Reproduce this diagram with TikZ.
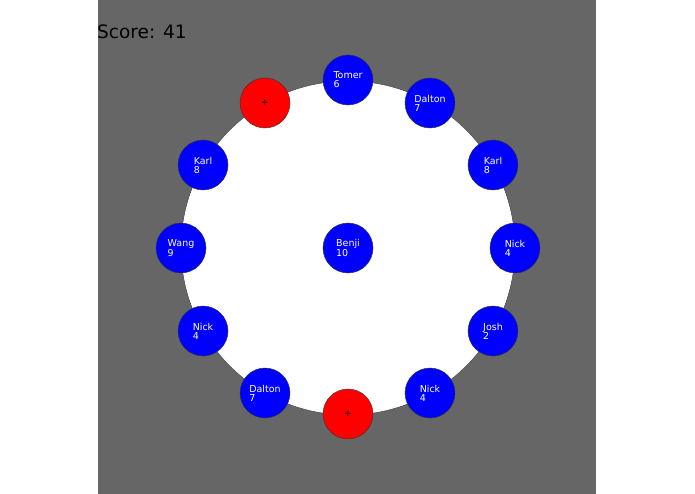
\documentclass[tikz,border=0pt]{standalone}
\usepackage{fontspec}
\setmainfont{DejaVu Sans}
\begin{document}
\begin{tikzpicture}[x=1pt,y=-1pt,
  player/.style={circle,draw=black!80,fill=blue,minimum size=50pt,inner sep=0pt,text=white,font=\fontsize{9.5}{9}\selectfont,align=left},
  bomb/.style={circle,draw=black!80,fill=red,minimum size=50pt,inner sep=0pt,font=\fontsize{9}{9}\selectfont}]
\useasboundingbox (0,0) rectangle (695,494);
\fill[white] (0,0) rectangle (695,494);
\fill[black!60] (98,0) rectangle (596,494);
\node[circle,fill=white,draw=black!80,minimum size=334pt,inner sep=0pt] (ring) at (348,248) {};
\node[anchor=west,inner sep=0pt,font=\fontsize{18.5}{18}\selectfont] (score) at (97,32) {Score: 41};
\node[player] (c) at (348,248) {Benji\\10};
\node[player] (p90) at (348,80) {Tomer\\6};
\node[player] (p60) at (430,103) {Dalton\\7};
\node[player] (p30) at (493,165) {Karl\\8};
\node[player] (p0) at (515,248) {Nick\\4};
\node[player] (pm30) at (493,331) {Josh\\2};
\node[player] (pm60) at (430,393) {Nick\\4};
\node[bomb] (b270) at (348,414) {+};
\node[player] (p240) at (265,393) {Dalton\\7};
\node[player] (p210) at (203,331) {Nick\\4};
\node[player] (p180) at (181,248) {Wang\\9};
\node[player] (p150) at (203,165) {Karl\\8};
\node[bomb] (b120) at (265,103) {+};
\end{tikzpicture}
\end{document}
